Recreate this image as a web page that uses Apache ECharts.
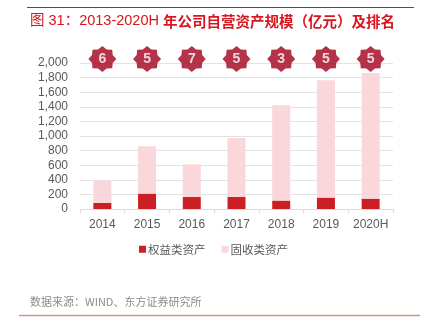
<!DOCTYPE html>
<html>
<head>
<meta charset="utf-8">
<script src="https://cdn.jsdelivr.net/npm/echarts@6/dist/echarts.min.js"></script>
<style>
  html, body { margin: 0; padding: 0; background: #fff; }
  #chart { width: 427px; height: 332px; }
</style>
</head>
<body>
<div id="chart"></div>
<script>
// Proprietary assets by year (100 million yuan) and industry ranking
const years = ['2014', '2015', '2016', '2017', '2018', '2019', '2020H'];
const equityAssets = [85, 211, 164, 164, 115, 156, 142];
const fixedIncomeAssets = [300, 648, 448, 809, 1305, 1607, 1721];
const ranks = [6, 5, 7, 5, 3, 5, 5];
const yTicks = [0, 200, 400, 600, 800, 1000, 1200, 1400, 1600, 1800, 2000];

// 8-pointed badge shape for the rank markers
function starPath(points, inner) {
  let d = '';
  for (let i = 0; i < points * 2; i++) {
    const r = i % 2 === 0 ? 1 : inner;
    const a = Math.PI * i / points - Math.PI / 2;
    const x = (50 + 50 * r * Math.cos(a)).toFixed(2);
    const y = (50 + 50 * r * Math.sin(a)).toFixed(2);
    d += (i === 0 ? 'M' : 'L') + x + ' ' + y + ' ';
  }
  return 'path://' + d + 'Z';
}

const chart = echarts.init(document.getElementById('chart'));
const cjkFont = '"Noto Sans CJK SC", sans-serif';
const numFont = '"Liberation Sans", Arial, sans-serif';
const titleFont = '"Liberation Sans", "Noto Sans CJK SC", sans-serif';

chart.setOption({
  animation: false,
  textStyle: { fontFamily: numFont },
  grid: { left: 80, right: 34, top: 63, bottom: 123 },
  legend: {
    bottom: 72,
    left: 'center',
    itemWidth: 7,
    itemHeight: 7,
    itemGap: 16,
    icon: 'rect',
    textStyle: { color: '#595959', fontSize: 11.5, fontFamily: cjkFont, padding: [0, 0, 0, -3] },
    data: ['权益类资产', '固收类资产']
  },
  xAxis: {
    type: 'category',
    data: years,
    axisLine: { lineStyle: { color: '#d9d9d9', width: 1 } },
    axisTick: { show: true, alignWithLabel: false, length: 4, lineStyle: { color: '#d9d9d9' } },
    axisLabel: { color: '#595959', fontSize: 12, margin: 10, interval: 0, fontFamily: numFont }
  },
  yAxis: {
    type: 'value',
    min: yTicks[0],
    max: yTicks[yTicks.length - 1],
    interval: yTicks[1] - yTicks[0],
    axisLine: { show: false },
    axisTick: { show: false },
    splitLine: { lineStyle: { color: '#e3e3e3', width: 1 } },
    axisLabel: {
      color: '#595959', fontSize: 12, margin: 12, fontFamily: numFont,
      formatter: v => v.toLocaleString('en-US')
    }
  },
  series: [
    {
      name: '权益类资产',
      type: 'bar',
      stack: 'assets',
      barWidth: 18,
      itemStyle: { color: '#cc1e25' },
      data: equityAssets
    },
    {
      name: '固收类资产',
      type: 'bar',
      stack: 'assets',
      barWidth: 18,
      itemStyle: { color: '#f9d7da' },
      data: fixedIncomeAssets
    },
    {
      name: 'rank',
      type: 'scatter',
      clip: false,
      symbol: starPath(8, 0.8),
      symbolSize: [28, 26],
      itemStyle: { color: '#a3001c' },
      label: {
        show: true,
        position: 'inside',
        color: '#fff',
        fontSize: 14,
        fontWeight: 'bold',
        fontFamily: numFont,
        formatter: p => ranks[p.dataIndex]
      },
      data: ranks.map((r, i) => [years[i], 2055])
    }
  ],
  graphic: [
    {
      type: 'line',
      shape: { x1: 27, y1: 7.5, x2: 414, y2: 7.5 },
      style: { stroke: '#d7161e', lineWidth: 1 }
    },
    {
      type: 'text',
      left: 30,
      top: 14,
      style: {
        text: '{n|图 31：2013-2020H }{b|年公司自营资产规模（亿元）及排名}',
        fill: '#d7161e',
        fontFamily: titleFont,
        fontSize: 14.5,
        rich: {
          n: { fill: '#d7161e', fontFamily: titleFont, fontSize: 14.5, fontWeight: 'normal' },
          b: { fill: '#d7161e', fontFamily: cjkFont, fontSize: 14.5, fontWeight: 'bold' }
        }
      }
    },
    {
      type: 'text',
      left: 30,
      top: 296,
      style: {
        text: '数据来源：WIND、东方证券研究所',
        fill: '#8c8c8c',
        fontFamily: cjkFont,
        fontSize: 11
      }
    },
    {
      type: 'line',
      shape: { x1: 19, y1: 315.5, x2: 420, y2: 315.5 },
      style: { stroke: '#e58a8a', lineWidth: 1.5 }
    }
  ]
});
</script>
</body>
</html>
